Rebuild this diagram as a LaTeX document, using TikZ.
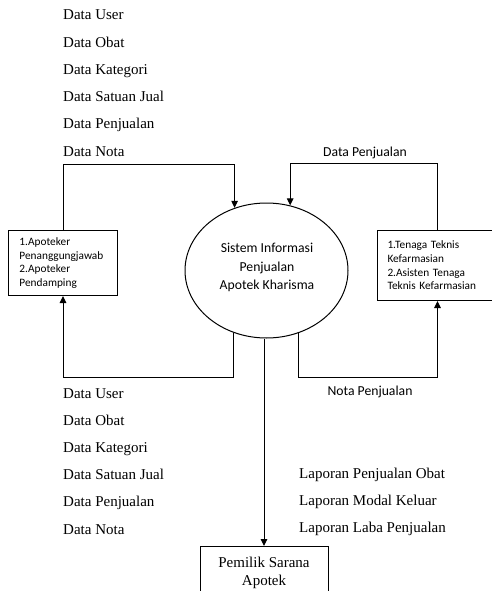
\documentclass[tikz,border=0pt]{standalone}
\usepackage{fontspec}
\setmainfont{Liberation Serif}
\newfontfamily\calibri{Carlito}
\usetikzlibrary{arrows.meta,calc,shapes.geometric}
\begin{document}
\begin{tikzpicture}[x=1pt,y=-1pt,
 flow/.style={draw=black, line width=1pt, -{Triangle[length=7pt,width=6.5pt]}},
 lbl/.style={font=\fontsize{15}{18}\selectfont, inner sep=0pt, anchor=base west},
 clbl/.style={font=\calibri\fontsize{13.7}{16}\selectfont, inner sep=0pt, anchor=base},
 actor/.style={draw=black, line width=1pt, rectangle, align=left, inner ysep=0pt, anchor=north west},
 proc/.style={draw=black, line width=1pt, ellipse, minimum width=163pt, minimum height=135pt, inner sep=0pt},
]
\useasboundingbox (0,0) rectangle (492,591);

% top data list
\node[lbl] (t1) at (63,20) {Data User};
\node[lbl] (t2) at (63,47.2) {Data Obat};
\node[lbl] (t3) at (63,74.4) {Data Kategori};
\node[lbl] (t4) at (63,101.6) {Data Satuan Jual};
\node[lbl] (t5) at (63,128.8) {Data Penjualan};
\node[lbl] (t6) at (63,156) {Data Nota};

% external entities
\node[actor, minimum width=109pt, minimum height=65pt, text width=87pt, inner xsep=11pt,
      font=\calibri\fontsize{11.3}{13.4}\selectfont] (lbox) at (8,230)
  {1.Apoteker\\Penanggungjawab\\2.Apoteker\\Pendamping};
\node[actor, minimum width=120pt, minimum height=70pt, text width=100pt, inner xsep=10pt,
      font=\calibri\fontsize{11.3}{13.7}\selectfont] (rbox) at (377,230)
  {1.Tenaga Teknis\\Kefarmasian\\2.Asisten Tenaga\\Teknis Kefarmasian};

% process
\node[proc] (sys) at (266.5,270.5) {};
\node[font=\calibri\fontsize{13.7}{18.5}\selectfont, align=center, inner sep=0pt] (systxt) at (267,267.5)
  {Sistem Informasi\\Penjualan\\Apotek Kharisma};

% owner
\node[draw=black, line width=1pt, anchor=north, align=center, inner xsep=0pt, inner ysep=10.8pt,
      minimum width=128pt, font=\fontsize{15}{18}\selectfont] (pbox) at (264,546)
  {Pemilik Sarana\\Apotek};

% connectors
\draw[flow] (lbox.north) -- ++(0,-66) -| (sys.117.7);
\draw[flow] (rbox.north) -- ++(0,-67) -| (sys.70.9);
\draw[flow] (sys.242.3) -- ++(0,44.6) -| (lbox.south);
\draw[flow] (sys.297.7) -- ++(0,44.6) -| (rbox.south);
\draw[flow] (sys.south -| pbox.north) -- (pbox.north);

% flow labels
\node[clbl] (dpj) at (365,156.4) {Data Penjualan};
\node[clbl] (nota) at (370,395) {Nota Penjualan};

% bottom data list
\node[lbl] (b1) at (63,398) {Data User};
\node[lbl] (b2) at (63,425.2) {Data Obat};
\node[lbl] (b3) at (63,452.4) {Data Kategori};
\node[lbl] (b4) at (63,479.6) {Data Satuan Jual};
\node[lbl] (b5) at (63,506.8) {Data Penjualan};
\node[lbl] (b6) at (63,534) {Data Nota};

% reports
\node[lbl] (r1) at (299,478) {Laporan Penjualan Obat};
\node[lbl] (r2) at (299,505) {Laporan Modal Keluar};
\node[lbl] (r3) at (299,532) {Laporan Laba Penjualan};
\end{tikzpicture}
\end{document}
